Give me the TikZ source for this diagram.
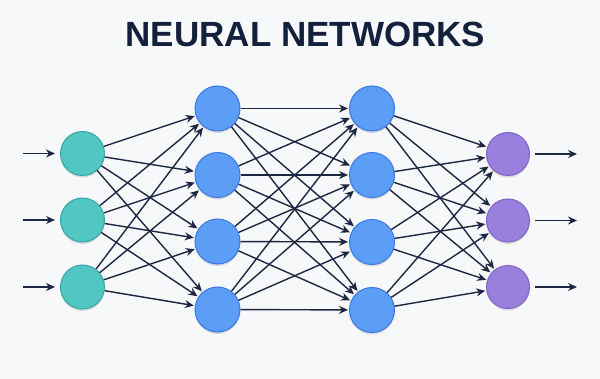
\documentclass[tikz,border=0pt]{standalone}
\usepackage{fontspec}
\setmainfont{Liberation Sans}
\usetikzlibrary{arrows.meta,shadows}
\definecolor{bgc}{HTML}{F7F8FA}
\definecolor{navy}{HTML}{14213D}
\definecolor{edgec}{HTML}{1C2742}
\definecolor{tealf}{HTML}{52C6C3}
\definecolor{tealb}{HTML}{36A6A4}
\definecolor{bluef}{HTML}{5C9DF6}
\definecolor{blueb}{HTML}{3978E6}
\definecolor{purpf}{HTML}{9A80DD}
\definecolor{purpb}{HTML}{7F62C9}
\tikzset{
  neuron/.style={circle, minimum size=44pt, inner sep=0pt, line width=1pt,
    drop shadow={shadow xshift=0pt, shadow yshift=-2pt, opacity=0.12, fill=black}},
  inneuron/.style={neuron, fill=tealf, draw=tealb, minimum size=44pt},
  hidneuron/.style={neuron, fill=bluef, draw=blueb, minimum size=45pt},
  outneuron/.style={neuron, fill=purpf, draw=purpb, minimum size=43pt},
  conn/.style={draw=edgec, line width=1.4pt, -{Stealth[length=9pt,width=8pt]}, shorten >=1pt},
}
\begin{document}
\begin{tikzpicture}[x=1pt,y=-1pt]
\path[fill=bgc] (0,0) rectangle (600,379);
\useasboundingbox (0,0) rectangle (600,379);
\node[text=navy, font=\bfseries\fontsize{35}{35}\selectfont] (title) at (305.5,34) {NEURAL NETWORKS};
% input
\node[inneuron] (i1) at (82.5,153.5) {};
\node[inneuron] (i2) at (82.5,220) {};
\node[inneuron] (i3) at (82.5,287) {};
% hidden 1
\node[hidneuron] (a1) at (217.5,108.5) {};
\node[hidneuron] (a2) at (217.5,175) {};
\node[hidneuron] (a3) at (217.5,241.5) {};
\node[hidneuron] (a4) at (217.5,309.5) {};
% hidden 2
\node[hidneuron] (b1) at (372,108.5) {};
\node[hidneuron] (b2) at (372,175) {};
\node[hidneuron] (b3) at (372,242) {};
\node[hidneuron] (b4) at (372,310) {};
% output
\node[outneuron] (o1) at (508,154) {};
\node[outneuron] (o2) at (508,220.5) {};
\node[outneuron] (o3) at (508,287) {};
% inputs and outputs arrows
\foreach \n in {1,2,3}{
  \coordinate (in\n) at (23,0 |- i\n);
  \coordinate (ie\n) at (55,0 |- i\n);
  \draw[conn,shorten >=0pt] (in\n) -- (ie\n);
  \coordinate (os\n) at (535,0 |- o\n);
  \coordinate (oe\n) at (577,0 |- o\n);
  \draw[conn,shorten >=0pt] (os\n) -- (oe\n);
}
\foreach \s in {1,2,3}{\foreach \t in {1,2,3,4}{\draw[conn] (i\s) -- (a\t);}}
\foreach \s in {1,2,3,4}{\foreach \t in {1,2,3,4}{\draw[conn] (a\s) -- (b\t);}}
\foreach \s in {1,2,3,4}{\foreach \t in {1,2,3}{\draw[conn] (b\s) -- (o\t);}}
\end{tikzpicture}
\end{document}
